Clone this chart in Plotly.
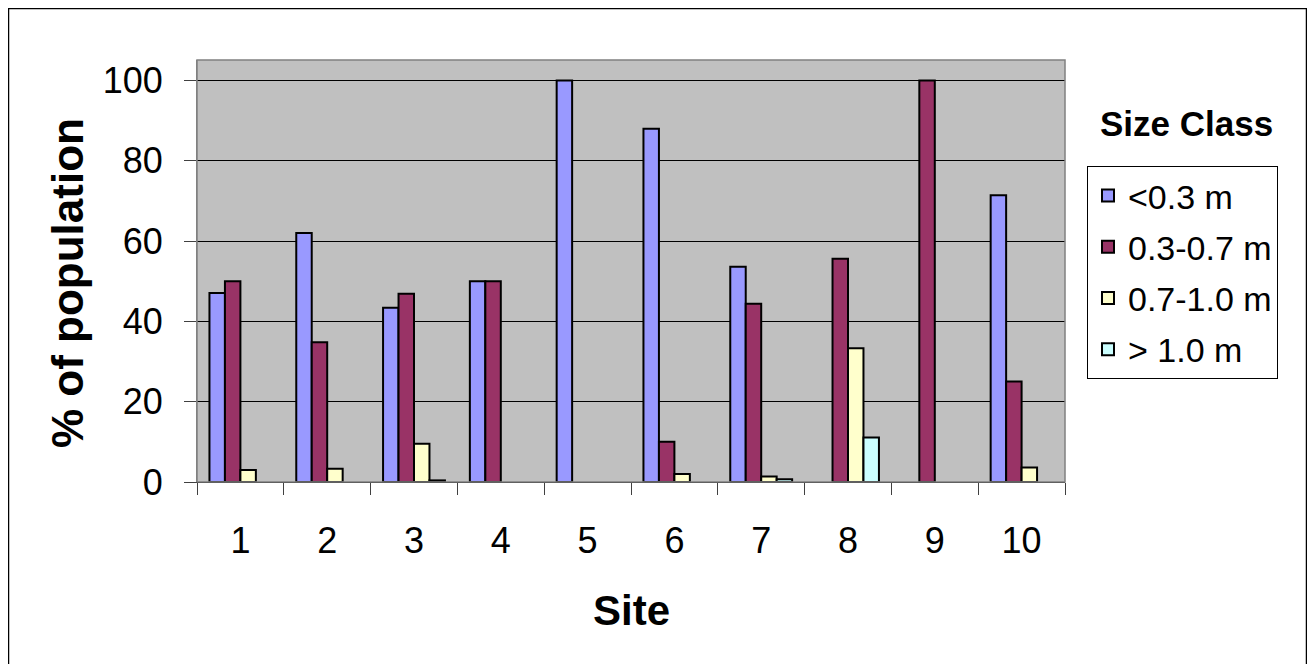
import plotly.graph_objects as go

sites = ["1", "2", "3", "4", "5", "6", "7", "8", "9", "10"]
lt_03 = [47.1, 62.0, 43.4, 50.0, 100.0, 88.0, 53.6, None, None, 71.4]
s03_07 = [50.0, 34.8, 46.9, 50.0, None, 10.0, 44.4, 55.6, 100.0, 25.0]
s07_10 = [3.0, 3.3, 9.5, None, None, 2.0, 1.4, 33.3, None, 3.6]
gt_10 = [None, None, 0.4, None, None, None, 0.7, 11.1, None, None]
series_names = ["<0.3 m", "0.3-0.7 m", "0.7-1.0 m", "> 1.0 m"]
colors = ["#9999FF", "#993366", "#FFFFCC", "#CCFFFF"]
y_ticks = [0, 20, 40, 60, 80, 100]

FONT = "Arial, Liberation Sans, sans-serif"

# page body has an 8px margin, so figure coords = screen coords - 8
OFF = 8
W, H = 1299, 664
L, R, T, B = 197 - OFF, 1065 - OFF, 60 - OFF, 482 - OFF
pw, ph = R - L, B - T

fig = go.Figure()
for i, (name, vals) in enumerate(zip(series_names, [lt_03, s03_07, s07_10, gt_10])):
    fig.add_trace(go.Bar(
        x=sites, y=vals, name=name, legendgroup=name,
        marker=dict(color=colors[i], line=dict(color="#000000", width=2)),
    ))

def px_x(x):
    return (x - OFF - L) / pw

def px_y(y):
    return (B - (y - OFF)) / ph

fig.update_layout(
    width=W, height=H,
    margin=dict(l=L, r=W - R, t=T, b=H - B, pad=0),
    paper_bgcolor="#FFFFFF",
    plot_bgcolor="#C0C0C0",
    barmode="group",
    bargap=0.287,
    bargroupgap=0,
    font=dict(family=FONT, color="#000000"),
    showlegend=True,
    legend=dict(
        x=px_x(1087), y=px_y(166), xanchor="left", yanchor="top",
        bgcolor="#FFFFFF", bordercolor="#000000", borderwidth=1,
        font=dict(family=FONT, size=34, color="#000000"),
        tracegroupgap=4,
        itemclick=False,
    ),
    xaxis=dict(
        type="category",
        tickson="boundaries",
        ticks="outside", ticklen=12, tickcolor="#404040", tickwidth=1,
        showline=True, linecolor="#000000", linewidth=1,
        showgrid=False,
        tickfont=dict(family=FONT, size=36),
        ticklabelstandoff=27,
    ),
    yaxis=dict(
        range=[0, 100 * ph / 401.5],
        tickvals=y_ticks,
        ticks="outside", ticklen=12, tickcolor="#404040", tickwidth=1,
        showline=True, linecolor="#808080", linewidth=1,
        showgrid=True, gridcolor="#000000", gridwidth=1,
        zeroline=False,
        tickfont=dict(family=FONT, size=36),
        ticklabelstandoff=14,
    ),
    annotations=[
        dict(text="<b>Site</b>", x=0.5, y=px_y(610), xref="paper", yref="paper",
             showarrow=False, xanchor="center", yanchor="middle",
             font=dict(family=FONT, size=42)),
        dict(text="<b>% of population</b>", x=px_x(67), y=px_y(283), xref="paper", yref="paper",
             showarrow=False, xanchor="center", yanchor="middle", textangle=-90,
             font=dict(family=FONT, size=44)),
        dict(text="<b>Size Class</b>", x=px_x(1186), y=px_y(123), xref="paper", yref="paper",
             showarrow=False, xanchor="center", yanchor="middle",
             font=dict(family=FONT, size=35)),
    ],
    shapes=[
        dict(type="rect", xref="paper", yref="paper",
             x0=0, x1=1, y0=0, y1=1, line=dict(color="#808080", width=1.5), layer="above"),
        dict(type="rect", xref="paper", yref="paper",
             x0=px_x(8.5), x1=px_x(1306.5), y0=px_y(690), y1=px_y(8.5),
             line=dict(color="#000000", width=1.5)),
    ],
)

fig.write_html("out.html")
